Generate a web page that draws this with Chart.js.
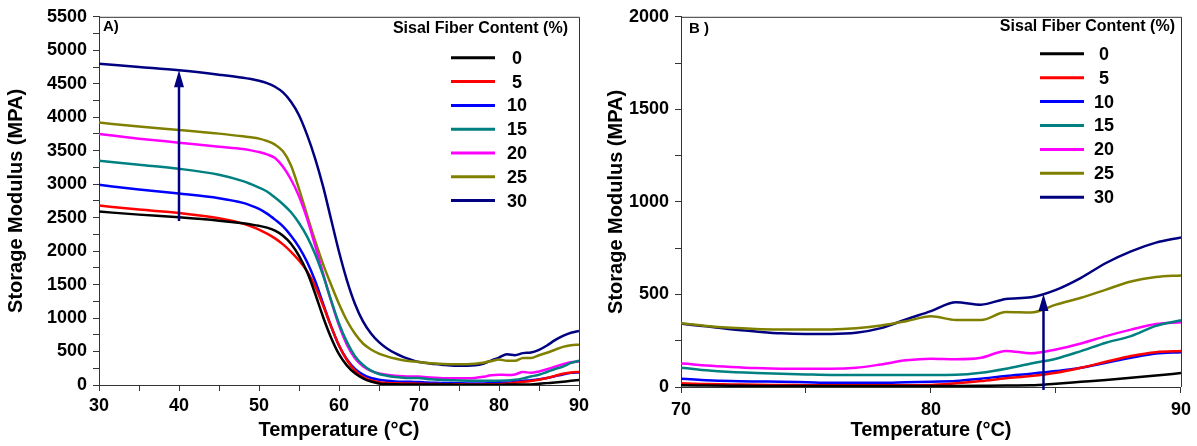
<!DOCTYPE html>
<html>
<head>
  <title>Storage Modulus vs Temperature</title>
  <script src="https://cdn.jsdelivr.net/npm/chart.js"></script>
  <style>
    body { margin: 0; background: #fff; }
    .panel { position: absolute; top: 0; height: 446px; }
  </style>
</head>
<body>
  <div class="panel" style="left:0;width:600px"><canvas id="chartA" width="600" height="446"></canvas></div>
  <div class="panel" style="left:600px;width:597px"><canvas id="chartB" width="597" height="446"></canvas></div>

  <script>
    // temperature (°C) shared by every series
    const temps = [30, 35, 40, 45, 48, 49, 50, 51, 52, 53, 54, 55, 56, 57, 58, 59, 60, 61, 62, 63, 64, 65, 66, 67, 68, 69,
                   70, 71, 72, 73, 74, 75, 76, 77, 78, 79, 80, 81, 82, 83, 84, 85, 86, 87, 88, 89, 90];

    const fiberContent = ['0', '5', '10', '15', '20', '25', '30'];
    const lineColors = ['#000000', '#ff0000', '#0000ff', '#008080', '#ff00ff', '#808000', '#000080'];

    // storage modulus (MPa)
    const sm0 = [2590, 2545, 2505, 2455, 2415, 2398, 2378, 2350, 2305, 2230, 2110, 1930, 1690, 1370, 1020, 710, 460, 290, 175, 100, 52, 24, 13, 10, 9, 9,
                 9, 8, 7, 6, 6, 5, 5, 5, 5, 5, 5, 6, 7, 8, 9, 18, 28, 38, 50, 62, 75];
    const sm5 = [2680, 2620, 2570, 2490, 2410, 2370, 2320, 2260, 2190, 2100, 1990, 1860, 1700, 1480, 1190, 880, 590, 370, 215, 120, 68, 42, 30, 25, 22, 21,
                 20, 16, 14, 12, 11, 10, 9, 9, 9, 10, 11, 20, 32, 47, 59, 77, 104, 136, 167, 188, 194];
    const sm10 = [2990, 2920, 2860, 2790, 2720, 2680, 2630, 2560, 2470, 2370, 2230, 2060, 1840, 1560, 1220, 880, 590, 380, 240, 155, 105, 78, 63, 54, 49, 47,
                  45, 37, 32, 30, 29, 26, 23, 23, 23, 26, 29, 32, 45, 60, 72, 86, 104, 131, 158, 181, 188];
    const sm15 = [3350, 3290, 3230, 3140, 3045, 3000, 2950, 2890, 2800, 2700, 2580, 2420, 2220, 1960, 1640, 1270, 920, 640, 430, 300, 215, 165, 138, 120, 110, 106,
                  104, 90, 81, 76, 72, 68, 65, 65, 65, 65, 65, 66, 77, 99, 127, 153, 194, 239, 275, 330, 361];
    const sm20 = [3750, 3680, 3620, 3560, 3525, 3505, 3480, 3445, 3390, 3260, 3070, 2820, 2490, 2090, 1670, 1260, 890, 600, 400, 280, 210, 172, 152, 140, 132, 128,
                  127, 116, 108, 102, 99, 99, 99, 104, 122, 144, 153, 150, 158, 195, 182, 203, 235, 275, 310, 340, 350];
    const sm25 = [3920, 3860, 3810, 3755, 3715, 3700, 3680, 3645, 3590, 3490, 3280, 2930, 2540, 2160, 1810, 1500, 1210, 960, 765, 620, 530, 470, 428, 395, 370, 355,
                  345, 330, 320, 314, 311, 310, 311, 318, 332, 355, 382, 362, 362, 405, 402, 445, 482, 526, 570, 594, 603];
    const sm30 = [4800, 4750, 4700, 4635, 4590, 4570, 4545, 4510, 4455, 4370, 4230, 4030, 3740, 3390, 2970, 2480, 1990, 1560, 1210, 950, 770, 640, 545, 475, 420, 378,
                  343, 328, 312, 300, 290, 287, 287, 293, 318, 365, 410, 458, 445, 476, 485, 525, 590, 670, 733, 780, 808];
    const seriesValues = [sm0, sm5, sm10, sm15, sm20, sm25, sm30];

    // arrows: [temperature, from MPa, to MPa]
    const arrowA = [40, 2450, 4700];
    const arrowB = [84.5, -16, 503];

    const FONT = '"Liberation Sans", Arial, sans-serif';

    function buildDatasets() {
      return fiberContent.map((name, i) => ({
        label: name,
        data: temps.map((t, j) => ({ x: t, y: seriesValues[i][j] })),
        borderColor: lineColors[i],
        borderWidth: 2.5,
        pointRadius: 0,
        cubicInterpolationMode: 'monotone',
        fill: false
      }));
    }

    // frame, arrow, panel tag and legend
    const decorPlugin = {
      id: 'decor',
      afterDatasetsDraw(chart, args, opts) {
        const ctx = chart.ctx;
        const a = chart.chartArea;
        const xs = chart.scales.x, ys = chart.scales.y;
        ctx.save();
        ctx.strokeStyle = '#333';
        ctx.lineWidth = 1;
        ctx.beginPath();
        ctx.moveTo(a.left, a.top + 0.5);
        ctx.lineTo(a.right + 0.5, a.top + 0.5);
        ctx.lineTo(a.right + 0.5, a.bottom);
        ctx.stroke();

        // arrow
        const ax = xs.getPixelForValue(opts.arrow[0]);
        const y0 = ys.getPixelForValue(opts.arrow[1]);
        const y1 = ys.getPixelForValue(opts.arrow[2]);
        ctx.strokeStyle = '#000080';
        ctx.fillStyle = '#000080';
        ctx.lineWidth = 2.5;
        ctx.beginPath();
        ctx.moveTo(ax, y0);
        ctx.lineTo(ax, y1 + 12);
        ctx.stroke();
        ctx.beginPath();
        ctx.moveTo(ax, y1);
        ctx.lineTo(ax - 5, y1 + 17);
        ctx.lineTo(ax + 5, y1 + 17);
        ctx.closePath();
        ctx.fill();

        // panel tag
        ctx.fillStyle = '#000';
        ctx.font = 'bold 15px ' + FONT;
        ctx.textBaseline = 'middle';
        ctx.textAlign = 'left';
        ctx.fillText(opts.tag, a.left + opts.tagDx, a.top + opts.tagDy);

        // legend
        const lg = opts.legend;
        ctx.font = 'bold 16px ' + FONT;
        ctx.textAlign = 'right';
        ctx.fillText('Sisal Fiber Content (%)', a.right - lg.titleRight, a.top + lg.titleDy);
        ctx.font = 'bold 18px ' + FONT;
        ctx.textAlign = 'center';
        chart.data.datasets.forEach((ds, i) => {
          const yy = a.top + lg.rowTop + i * lg.rowStep;
          ctx.strokeStyle = ds.borderColor;
          ctx.lineWidth = 3;
          ctx.beginPath();
          ctx.moveTo(a.right - lg.lineFrom, yy);
          ctx.lineTo(a.right - lg.lineTo, yy);
          ctx.stroke();
          ctx.fillStyle = '#000';
          ctx.fillText(ds.label, a.right - lg.textCenter, yy + 1);
        });
        ctx.restore();
      }
    };

    function makeChart(id, p) {
      const ctx = document.getElementById(id).getContext('2d');
      return new Chart(ctx, {
        type: 'line',
        data: { datasets: buildDatasets() },
        options: {
          responsive: false,
          animation: false,
          events: [],
          layout: { padding: { top: 15, right: p.padRight, bottom: 0, left: 0 } },
          plugins: {
            legend: { display: false },
            tooltip: { enabled: false },
            decor: p.decor
          },
          scales: {
            x: {
              type: 'linear',
              min: p.xMin,
              max: p.xMax,
              ticks: {
                stepSize: 5,
                autoSkip: false,
                maxRotation: 0,
                padding: p.xPad,
                color: '#000',
                font: { family: FONT, size: 18, weight: 'bold' },
                callback: v => (v % 10 === 0 ? v : '')
              },
              grid: { drawOnChartArea: false, tickLength: 6, color: '#333' },
              border: { color: '#333', width: 1 },
              title: {
                display: true,
                text: 'Temperature (°C)',
                color: '#000',
                font: { family: FONT, size: 20, weight: 'bold' }
              },
              afterFit: s => { s.height = p.xHeight; }
            },
            y: {
              min: 0,
              max: p.yMax,
              ticks: {
                stepSize: 250,
                autoSkip: false,
                padding: 6,
                color: '#000',
                font: { family: FONT, size: 18, weight: 'bold' },
                callback: v => (v % 500 === 0 ? v : '')
              },
              grid: { drawOnChartArea: false, tickLength: 6, color: '#333' },
              border: { color: '#333', width: 1 },
              title: {
                display: true,
                text: 'Storage Modulus (MPA)',
                color: '#000',
                font: { family: FONT, size: 20, weight: 'bold' }
              },
              afterFit: s => { s.width = p.yWidth; }
            }
          }
        },
        plugins: [decorPlugin]
      });
    }

    makeChart('chartA', {
      xMin: 30, xMax: 90, yMax: 5500, padRight: 21, yWidth: 99, xHeight: 61, xPad: 4,
      decor: {
        arrow: arrowA, tag: 'A)', tagDx: 4, tagDy: 10,
        legend: { titleRight: 11, titleDy: 12, rowTop: 41, rowStep: 23.8, lineFrom: 128, lineTo: 84, textCenter: 62 }
      }
    });

    makeChart('chartB', {
      xMin: 70, xMax: 90, yMax: 2000, padRight: 13, yWidth: 81, xHeight: 59, xPad: 6,
      decor: {
        arrow: arrowB, tag: 'B )', tagDx: 8, tagDy: 12,
        legend: { titleRight: 6, titleDy: 10, rowTop: 37, rowStep: 23.9, lineFrom: 141, lineTo: 97, textCenter: 77 }
      }
    });
  </script>
</body>
</html>
